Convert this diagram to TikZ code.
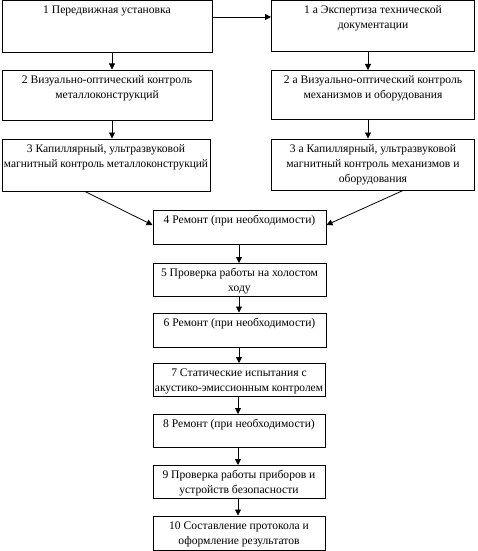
\documentclass[tikz,border=0pt]{standalone}
\usepackage{fontspec}
\usepackage{graphicx}
\setmainfont{Liberation Serif}
\usetikzlibrary{arrows.meta}
\newcommand\bt[3]{\parbox[c][#2][t]{#1}{\centering\fontsize{11.6pt}{15pt}\selectfont\rule{0pt}{13pt}#3\par}}
\newcommand\fitline[2]{\sbox0{#2}\ifdim\wd0>#1\relax\resizebox{#1}{\ht0}{#2}\else\usebox0\fi}
\begin{document}
\begin{tikzpicture}[x=1pt,y=1pt,
  box/.style={draw, line width=1pt, inner sep=0pt, anchor=north west},
  arr/.style={line width=0.8pt, -{Triangle[length=6pt,width=6pt]}}]
\fill[white] (0,0) rectangle (477,-551);
\useasboundingbox (0,0) rectangle (477,-551);
\node[box] (b1) at (1.5,-0.5) {\bt{210pt}{52pt}{1 Передвижная установка}};
\node[box] (b1a) at (271,-0.5) {\bt{203pt}{51pt}{1 а Экспертиза технической\\документации}};
\node[box] (b2) at (1.5,-69.5) {\bt{210pt}{50pt}{\fitline{204pt}{2 Визуально-оптический контроль}\\металлоконструкций}};
\node[box] (b2a) at (271,-70) {\bt{203pt}{49pt}{\fitline{198pt}{2 а Визуально-оптический контроль}\\механизмов и оборудования}};
\node[box] (b3) at (1.5,-138.5) {\bt{208pt}{52pt}{3 Капиллярный, ультразвуковой\\\fitline{204pt}{магнитный контроль металлоконструкций}}};
\node[box] (b3a) at (271,-138.5) {\bt{203pt}{51pt}{3 а Капиллярный, ультразвуковой\\\fitline{198pt}{магнитный контроль механизмов и}\\оборудования}};
\node[box] (b4) at (152.5,-209.5) {\bt{173pt}{34pt}{4 Ремонт (при необходимости)}};
\node[box] (b5) at (152.5,-263) {\bt{173pt}{33pt}{5 Проверка работы на холостом\\ходу}};
\node[box] (b6) at (152.5,-312.5) {\bt{173pt}{34pt}{6 Ремонт (при необходимости)}};
\node[box] (b7) at (152.5,-363) {\bt{172pt}{33pt}{7 Статические испытания с\\\fitline{168pt}{акустико-эмиссионным контролем}}};
\node[box] (b8) at (152.5,-414) {\bt{172pt}{33pt}{8 Ремонт (при необходимости)}};
\node[box] (b9) at (152.5,-465) {\bt{172pt}{33pt}{9 Проверка работы приборов и\\устройств безопасности}};
\node[box] (b10) at (152.5,-515.5) {\bt{172pt}{34pt}{10 Составление протокола и\\оформление результатов}};
\draw[arr] (b1.east |- 0,-17) -- (b1a.west |- 0,-17);
\draw[arr] (b1.south -| 112,0) -- (b2.north -| 112,0);
\draw[arr] (b2.south -| 112,0) -- (b3.north -| 112,0);
\draw[arr] (b1a.south -| 368,0) -- (b2a.north -| 368,0);
\draw[arr] (b2a.south -| 368,0) -- (b3a.north -| 368,0);
\draw[arr] (b3.south -| 85,0) -- (b4.west |- 0,-225);
\draw[arr] (b3a.south -| 403,0) -- (b4.east |- 0,-225);
\draw[arr] (b4.south -| 239,0) -- (b5.north -| 239,0);
\draw[arr] (b5.south -| 239,0) -- (b6.north -| 239,0);
\draw[arr] (b6.south -| 239,0) -- (b7.north -| 239,0);
\draw[arr] (b7.south -| 238,0) -- (b8.north -| 238,0);
\draw[arr] (b8.south -| 238,0) -- (b9.north -| 238,0);
\draw[arr] (b9.south -| 238,0) -- (b10.north -| 238,0);
\end{tikzpicture}
\end{document}
